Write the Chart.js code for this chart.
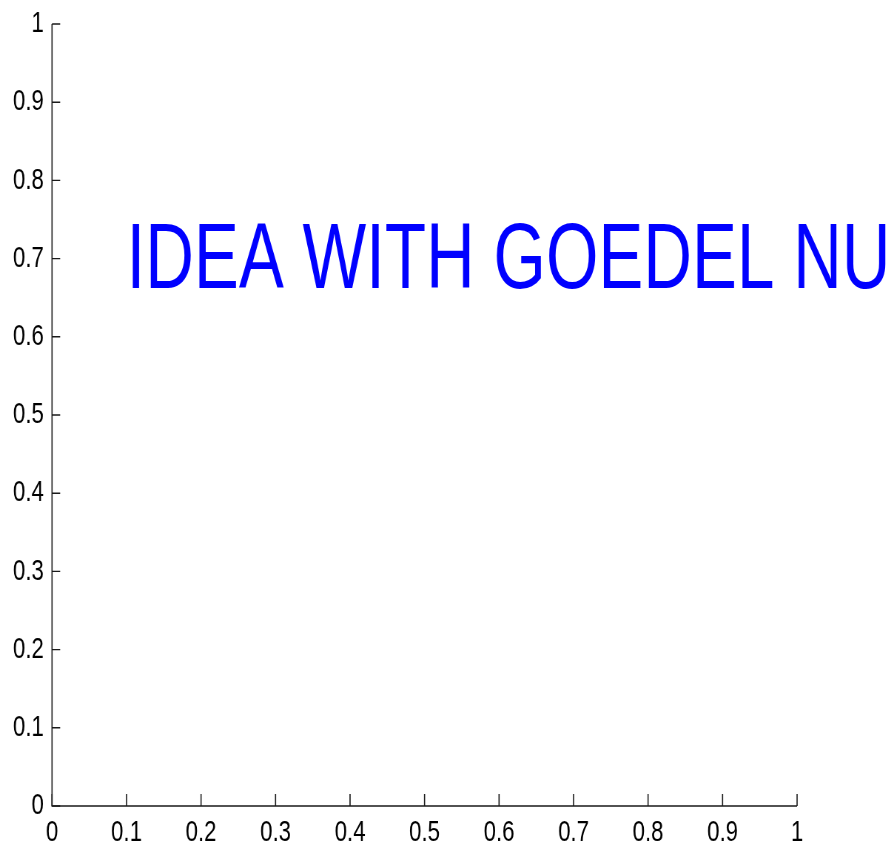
<!DOCTYPE html>
<html><head><meta charset="utf-8">
<script src="https://cdn.jsdelivr.net/npm/chart.js@4/dist/chart.umd.min.js"></script>
<style>
html,body{margin:0;padding:0;background:#fff;overflow:hidden;width:894px;height:848px;}
#wrap{position:absolute;left:0;top:0;width:1208px;height:848px;transform:scaleX(0.74007);transform-origin:0 0;}
</style></head><body>
<div id="wrap"><canvas id="c"></canvas></div>
<script>
const xTicks=[0,0.1,0.2,0.3,0.4,0.5,0.6,0.7,0.8,0.9,1];
const yTicks=[0,0.1,0.2,0.3,0.4,0.5,0.6,0.7,0.8,0.9,1];
const xTickLabels=['0','0.1','0.2','0.3','0.4','0.5','0.6','0.7','0.8','0.9','1'];
const yTickLabels=['0','0.1','0.2','0.3','0.4','0.5','0.6','0.7','0.8','0.9','1'];
const annotationText='IDEA WITH GOEDEL NUMBERS';
const annotationX=0.1;
const annotationY=0.7;

const FONT='"Liberation Sans", Arial, Helvetica, sans-serif';
const AXIS_COLOR='#1a1a1a';

const axesPlugin={
  id:'matlabAxes',
  afterDraw(chart){
    const ctx=chart.ctx, a=chart.chartArea, xs=chart.scales.x, ys=chart.scales.y;
    ctx.save();
    ctx.strokeStyle=AXIS_COLOR;
    ctx.lineWidth=1.6;
    ctx.beginPath();
    ctx.moveTo(a.left,a.top);ctx.lineTo(a.left,a.bottom);ctx.lineTo(a.right,a.bottom);
    ctx.stroke();
    ctx.lineWidth=1.6;
    ctx.beginPath();
    xTicks.forEach(v=>{const p=xs.getPixelForValue(v);ctx.moveTo(p,a.bottom);ctx.lineTo(p,a.bottom-12);});
    ctx.stroke();
    ctx.lineWidth=1.4;
    ctx.beginPath();
    yTicks.forEach(v=>{const p=ys.getPixelForValue(v);ctx.moveTo(a.left,p);ctx.lineTo(a.left+11,p);});
    ctx.stroke();
    // annotation text
    ctx.fillStyle='#0000ff';
    ctx.font='92px '+FONT;
    ctx.textAlign='left';
    ctx.textBaseline='alphabetic';
    const tx=xs.getPixelForValue(annotationX), ty=ys.getPixelForValue(annotationY);
    ctx.translate(tx,ty+29);
    ctx.scale(0.99,1);
    ctx.fillText(annotationText,0,0);
    ctx.restore();
  }
};

new Chart(document.getElementById('c'),{
  type:'scatter',
  data:{datasets:[{data:[],showLine:false}]},
  options:{
    responsive:true,maintainAspectRatio:false,animation:false,
    events:[],
    layout:{padding:{left:0,top:24,right:131,bottom:0}},
    plugins:{legend:{display:false},tooltip:{enabled:false}},
    scales:{
      x:{type:'linear',min:0,max:1,
        afterBuildTicks(s){s.ticks=xTicks.map(v=>({value:v}));},
        afterFit(s){s.height=42;s.paddingLeft=0;s.paddingRight=0;},
        grid:{display:false,drawTicks:false},border:{display:false},
        ticks:{autoSkip:false,maxRotation:0,padding:9,color:'#000',font:{family:FONT,size:30},
          callback:(v,i)=>xTickLabels[i]}},
      y:{type:'linear',min:0,max:1,
        afterBuildTicks(s){s.ticks=yTicks.map(v=>({value:v}));},
        afterFit(s){s.width=70.3;s.paddingTop=0;s.paddingBottom=0;},
        grid:{display:false,drawTicks:false},border:{display:false},
        ticks:{autoSkip:false,padding:11,color:'#000',font:{family:FONT,size:30},
          callback:(v,i)=>yTickLabels[i]}}
    }
  },
  plugins:[axesPlugin]
});
</script>
</body></html>
